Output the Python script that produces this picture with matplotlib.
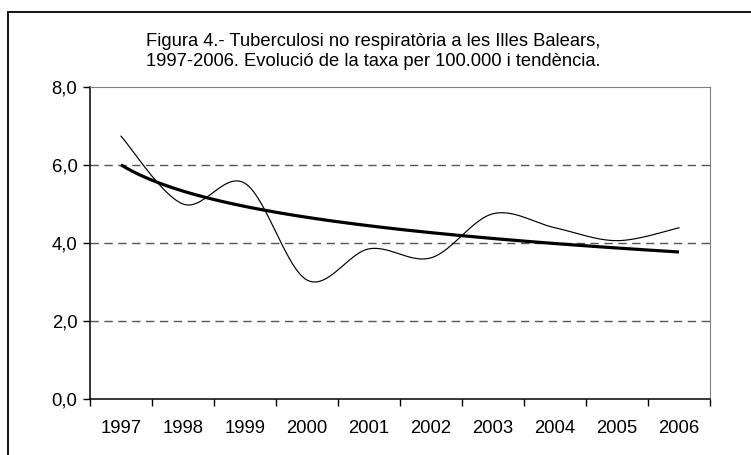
import numpy as np
import matplotlib
matplotlib.use("Agg")
import matplotlib.pyplot as plt
from matplotlib.patches import Rectangle

plt.rcParams['font.family'] = ['Liberation Sans', 'DejaVu Sans']

years = ['1997', '1998', '1999', '2000', '2001', '2002', '2003', '2004', '2005', '2006']
rates = [6.74, 5.00, 5.53, 3.05, 3.85, 3.62, 4.75, 4.39, 4.06, 4.39]
y_ticks = [0, 2, 4, 6, 8]
y_tick_labels = ['0,0', '2,0', '4,0', '6,0', '8,0']
title = ("Figura 4.- Tuberculosi no respiratòria a les Illes Balears,\n"
         "1997-2006. Evolució de la taxa per 100.000 i tendència.")


def smooth_curve(xs, ys, n=30):
    xs = np.asarray(xs, float)
    ys = np.asarray(ys, float)
    px = np.concatenate([[xs[0]], xs, [xs[-1]]])
    py = np.concatenate([[ys[0]], ys, [ys[-1]]])
    outx, outy = [], []
    t = np.linspace(0, 1, n)
    for i in range(1, len(px) - 2):
        p0 = np.array([px[i], py[i]])
        p3 = np.array([px[i + 1], py[i + 1]])
        c1 = p0 + (np.array([px[i + 1], py[i + 1]]) - np.array([px[i - 1], py[i - 1]])) / 6
        c2 = p3 - (np.array([px[i + 2], py[i + 2]]) - np.array([px[i], py[i]])) / 6
        b = ((1 - t) ** 3)[:, None] * p0 + (3 * (1 - t) ** 2 * t)[:, None] * c1 \
            + (3 * (1 - t) * t ** 2)[:, None] * c2 + (t ** 3)[:, None] * p3
        outx.extend(b[:, 0])
        outy.extend(b[:, 1])
    return np.array(outx), np.array(outy)


fig = plt.figure(figsize=(7.51, 4.55), dpi=100)
ax = fig.add_axes([90 / 751, 1 - 399 / 455, 620 / 751, 312 / 455])

x = np.arange(len(years))
sx, sy = smooth_curve(x, rates)
ax.plot(sx, sy, color='black', lw=0.85, solid_joinstyle='round', zorder=3)

# logarithmic trendline fitted to the data (as in the spreadsheet)
b, a = np.polyfit(np.log(x + 1), rates, 1)
tx = np.linspace(0, len(years) - 1, 200)
ax.plot(tx, a + b * np.log(tx + 1), color='black', lw=2.3, solid_capstyle='butt', zorder=4)

ax.set_xlim(-0.5, len(years) - 0.5)
ax.set_ylim(0, 8)
ax.set_yticks(y_ticks)
ax.set_yticklabels(y_tick_labels, fontsize=13.3)
ax.set_xticks(x)
ax.set_xticklabels(years, fontsize=13.3)
ax.set_xticks(np.arange(-0.5, len(years)), minor=True)
ax.tick_params(axis='x', which='major', length=0, pad=15)
ax.tick_params(axis='x', which='minor', length=5, width=1, color='black', direction='out')
ax.tick_params(axis='y', length=5, width=1, color='black', direction='out', pad=4)

for yv in [2, 4, 6]:
    ax.axhline(yv, color='#555555', lw=1, dashes=(6, 4), zorder=1)

ax.spines['left'].set_color('black')
ax.spines['bottom'].set_color('black')
ax.spines['left'].set_linewidth(1.1)
ax.spines['bottom'].set_linewidth(1.1)
ax.spines['top'].set_color('#808080')
ax.spines['right'].set_color('#808080')

fig.text(373 / 751, 1 - 51.5 / 455, title, ha='center', va='center', fontsize=13.2, linespacing=1.3)

fig.patches.append(Rectangle((8 / 751, -0.2), 1.2, 1 - 12 / 455 + 0.2, transform=fig.transFigure,
                             fill=False, edgecolor='black', lw=1.3, zorder=10))

fig.savefig('out.png', dpi=100)
